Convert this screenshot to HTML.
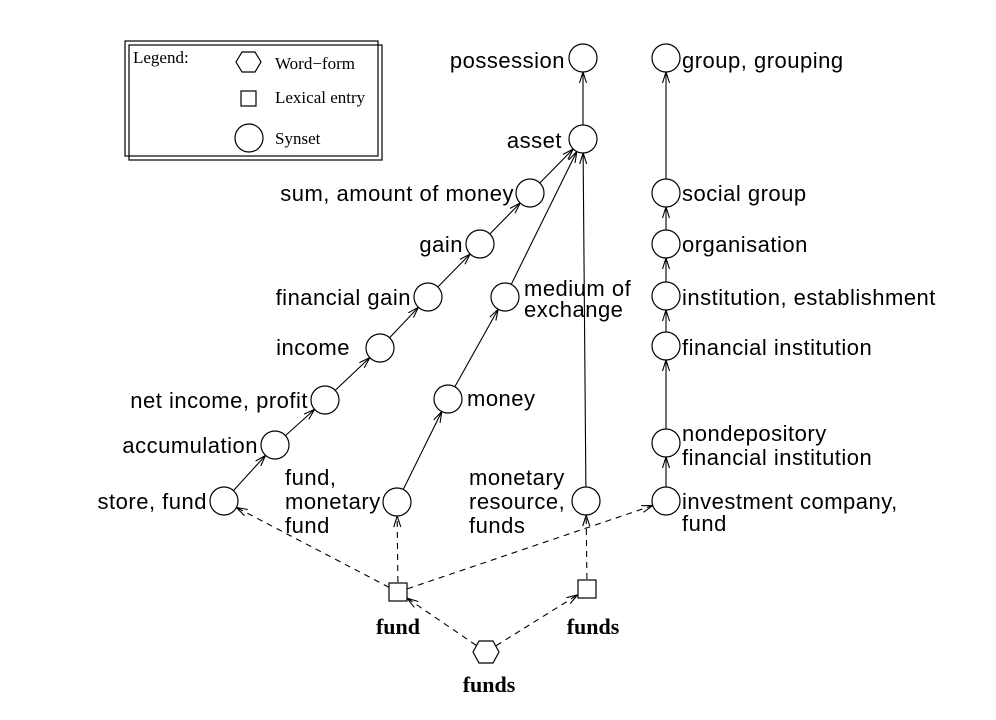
<!DOCTYPE html>
<html><head><meta charset="utf-8"><style>
html,body{margin:0;padding:0;background:#fff}
svg{display:block}
.s{font-family:"Liberation Sans",sans-serif;font-size:22px;letter-spacing:0.5px;fill:#000}
.b{font-family:"Liberation Serif",serif;font-size:22px;font-weight:bold;fill:#000}
.l{font-family:"Liberation Serif",serif;font-size:17px;fill:#000}
</style></head><body>
<svg id="g" width="996" height="720" viewBox="0 0 996 720" xmlns="http://www.w3.org/2000/svg">
<g fill="none" stroke="#000" stroke-width="1.2">
<rect x="125" y="41" width="253" height="115"/>
<rect x="129" y="45" width="253" height="115"/>
<polygon points="236,62 242,52 255,52 261,62 255,72 242,72"/>
<rect x="241" y="91" width="15" height="15"/>
<circle cx="249" cy="138" r="14"/>
</g>
<text class="l" x="133" y="63">Legend:</text>
<text class="l" x="275" y="69">Word−form</text>
<text class="l" x="275" y="103">Lexical entry</text>
<text class="l" x="275" y="144">Synset</text>
<g id="edges" stroke="#000" stroke-width="1.1" fill="none"></g>
<g id="nodes" fill="#fff" stroke="#000" stroke-width="1.2"></g>
<g class="s">
<text x="565" y="68" text-anchor="end">possession</text>
<text x="682" y="68">group, grouping</text>
<text x="562" y="148" text-anchor="end">asset</text>
<text x="514" y="201" text-anchor="end">sum, amount of money</text>
<text x="463" y="252" text-anchor="end">gain</text>
<text x="411" y="305" text-anchor="end">financial gain</text>
<text x="350" y="355" text-anchor="end">income</text>
<text x="308" y="408" text-anchor="end">net income, profit</text>
<text x="258" y="453" text-anchor="end">accumulation</text>
<text x="207" y="509" text-anchor="end">store, fund</text>
<text x="285" y="485">fund,</text>
<text x="285" y="509">monetary</text>
<text x="285" y="533">fund</text>
<text x="524" y="296">medium of</text>
<text x="524" y="317">exchange</text>
<text x="467" y="406">money</text>
<text x="469" y="485">monetary</text>
<text x="469" y="509">resource,</text>
<text x="469" y="533">funds</text>
<text x="682" y="201">social group</text>
<text x="682" y="252">organisation</text>
<text x="682" y="305">institution, establishment</text>
<text x="682" y="355">financial institution</text>
<text x="682" y="441">nondepository</text>
<text x="682" y="465">financial institution</text>
<text x="682" y="509">investment company,</text>
<text x="682" y="531">fund</text>
</g>
<text class="b" x="398" y="634" text-anchor="middle">fund</text>
<text class="b" x="593" y="634" text-anchor="middle">funds</text>
<text class="b" x="489" y="692" text-anchor="middle">funds</text>
</svg>
<script>
var N={pos:[583,58],asset:[583,139],grp:[666,58],soc:[666,193],org:[666,244],inst:[666,296],fin:[666,346],nond:[666,443],inv:[666,501],
sum:[530,193],gain:[480,244],fg:[428,297],inc:[380,348],net:[325,400],acc:[275,445],store:[224,501],
med:[505,297],money:[448,399],fm:[397,502],mr:[586,501]};
var S={f:[398,592],fs:[587,589]},H=[486,652];
var ns="http://www.w3.org/2000/svg",E=document.getElementById('edges'),G=document.getElementById('nodes');
function el(p,t,a){var e=document.createElementNS(ns,t);for(var k in a)e.setAttribute(k,a[k]);p.appendChild(e);return e;}
for(var k in N)el(G,'circle',{cx:N[k][0],cy:N[k][1],r:14});
for(var k in S)el(G,'rect',{x:S[k][0]-9,y:S[k][1]-9,width:18,height:18});
el(G,'polygon',{points:[[H[0]-13,H[1]],[H[0]-7,H[1]-11],[H[0]+7,H[1]-11],[H[0]+13,H[1]],[H[0]+7,H[1]+11],[H[0]-7,H[1]+11]].join(' ')});
function edge(a,ra,b,rb,dash){var dx=b[0]-a[0],dy=b[1]-a[1],L=Math.hypot(dx,dy),ux=dx/L,uy=dy/L;
var x1=a[0]+ux*ra,y1=a[1]+uy*ra,x2=b[0]-ux*rb,y2=b[1]-uy*rb;
var at={x1:x1,y1:y1,x2:x2,y2:y2};if(dash)at['stroke-dasharray']='6,5';el(E,'line',at);
var al=11,aw=3.5;var bx=x2-ux*al,by=y2-uy*al;
el(E,'polyline',{points:(bx-uy*aw)+','+(by+ux*aw)+' '+x2+','+y2+' '+(bx+uy*aw)+','+(by-ux*aw)});}
var C=[['asset','pos'],['store','acc'],['acc','net'],['net','inc'],['inc','fg'],['fg','gain'],['gain','sum'],['sum','asset'],
['fm','money'],['money','med'],['med','asset'],['mr','asset'],['inv','nond'],['nond','fin'],['fin','inst'],['inst','org'],['org','soc'],['soc','grp']];
C.forEach(function(c){edge(N[c[0]],14,N[c[1]],14,false);});
edge(S.f,10,N.store,14,true);edge(S.f,10,N.fm,14,true);edge(S.f,10,N.inv,14,true);edge(S.fs,10,N.mr,14,true);
edge(H,12,S.f,11,true);edge(H,12,S.fs,11,true);
</script>
</body></html>
